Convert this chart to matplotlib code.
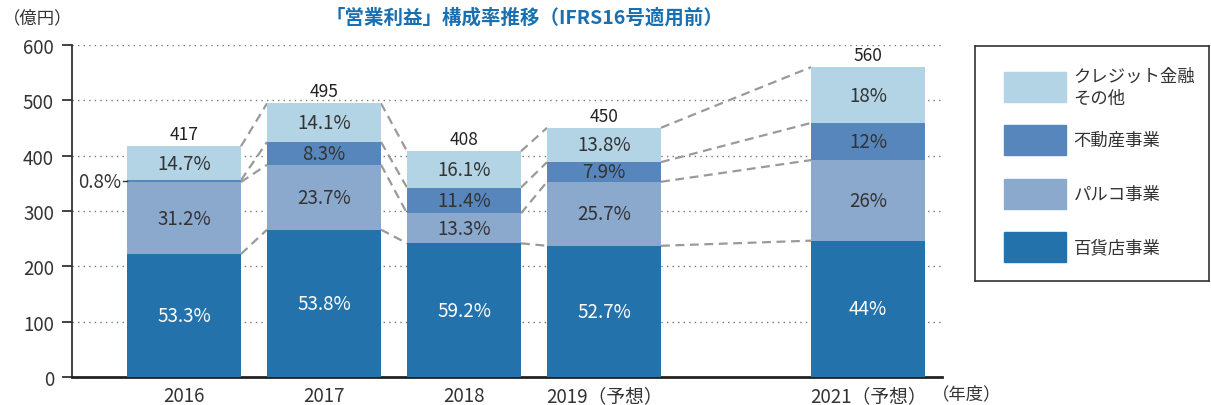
import numpy as np
import matplotlib
matplotlib.use("Agg")
import matplotlib.pyplot as plt
from matplotlib.patches import Rectangle

plt.rcParams["font.family"] = ["Noto Sans CJK JP", "DejaVu Sans"]

years = ["2016", "2017", "2018", "2019（予想）", "2021（予想）"]
totals = [417, 495, 408, 450, 560]
# segment shares (%), bottom to top
dept_pct = [53.3, 53.8, 59.2, 52.7, 44]
parco_pct = [31.2, 23.7, 13.3, 25.7, 26]
estate_pct = [0.8, 8.3, 11.4, 7.9, 12]
credit_pct = [14.7, 14.1, 16.1, 13.8, 18]

series_names = ["百貨店事業", "パルコ事業", "不動産事業", "クレジット金融\nその他"]
colors = ["#2372ab", "#8ba8cd", "#5686bc", "#b2d4e4"]
text_colors = ["white", "#333333", "#333333", "#333333"]

xpos = np.array([0, 1, 2, 3, 4.886])
width = 0.814
dark = "#333333"

pcts = np.array([dept_pct, parco_pct, estate_pct, credit_pct])
vals = pcts * np.array(totals) / 100.0
cum = np.cumsum(vals, axis=0)
bottoms = cum - vals

fig = plt.figure(figsize=(12.11, 4.06), dpi=100)
ax = fig.add_axes([72 / 1211, 1 - 378 / 406, 870 / 1211, 332 / 406])

for k in range(4):
    ax.bar(xpos, vals[k], width, bottom=bottoms[k], color=colors[k], zorder=3)
    for i in range(len(xpos)):
        if pcts[k, i] < 2:
            continue
        ax.text(xpos[i], bottoms[k, i] + vals[k, i] / 2, f"{pcts[k, i]:g}%",
                ha="center", va="center", fontsize=13.5, color=text_colors[k], zorder=5)

# small segment label outside the bar
i0 = 0
ymid = bottoms[2, i0] + vals[2, i0] / 2
ax.plot([xpos[i0] - width / 2 - 0.03, xpos[i0] - width / 2], [ymid, ymid], color=dark, lw=1, zorder=4)
ax.text(xpos[i0] - width / 2 - 0.04, ymid, f"{estate_pct[i0]:g}%", ha="right", va="center",
        fontsize=13.5, color=dark)

# dashed connectors between bars
for k in range(4):
    for i in range(len(xpos) - 1):
        ax.plot([xpos[i] + width / 2, xpos[i + 1] - width / 2], [cum[k, i], cum[k, i + 1]],
                color="#9a9a9a", lw=1.6, ls=(0, (4, 2.5)), zorder=2)

for i, t in enumerate(totals):
    ax.text(xpos[i], t + 6, str(t), ha="center", va="bottom", fontsize=12.5, color="#222222")

ax.set_xlim(-0.8, 5.414)
ax.set_ylim(0, 600)
ax.set_yticks(range(0, 601, 100))
ax.set_xticks(xpos)
ax.set_xticklabels(years)
ax.tick_params(axis="y", length=7, width=1.3, color=dark, pad=6, labelsize=13.5, labelcolor=dark)
ax.tick_params(axis="x", length=0, pad=6, labelsize=13.5, labelcolor=dark)
ax.grid(axis="y", ls=(0, (1, 3)), color="#777777", lw=1, zorder=0)
for s in ["top", "right"]:
    ax.spines[s].set_visible(False)
ax.spines["left"].set_color(dark)
ax.spines["left"].set_linewidth(1.3)
ax.spines["bottom"].set_color("#222222")
ax.spines["bottom"].set_linewidth(2)

fig.text(525 / 1211, 1 - 18 / 406, "「営業利益」構成率推移（IFRS16号適用前）", ha="center", va="center",
         fontsize=14, fontweight="bold", color="#1a6fb0")
fig.text(3 / 1211, 1 - 18 / 406, "（億円）", ha="left", va="center", fontsize=12.5, color=dark)
fig.text(932 / 1211, 1 - 394 / 406, "（年度）", ha="left", va="center", fontsize=12.5, color=dark)

# legend box
lax = fig.add_axes([975 / 1211, 1 - 282 / 406, 234 / 1211, 235 / 406])
lax.set_xlim(0, 1)
lax.set_ylim(0, 1)
lax.set_xticks([])
lax.set_yticks([])
for s in lax.spines.values():
    s.set_color(dark)
    s.set_linewidth(1.2)
centers = [0.143, 0.37, 0.6, 0.826]
for k in range(4):
    lax.add_patch(Rectangle((0.123, centers[k] - 0.064), 0.268, 0.128, color=colors[k]))
    lax.text(0.421, centers[k], series_names[k], ha="left", va="center", fontsize=12.5,
             color=dark, linespacing=1.3)

fig.savefig("out.png", dpi=100)
